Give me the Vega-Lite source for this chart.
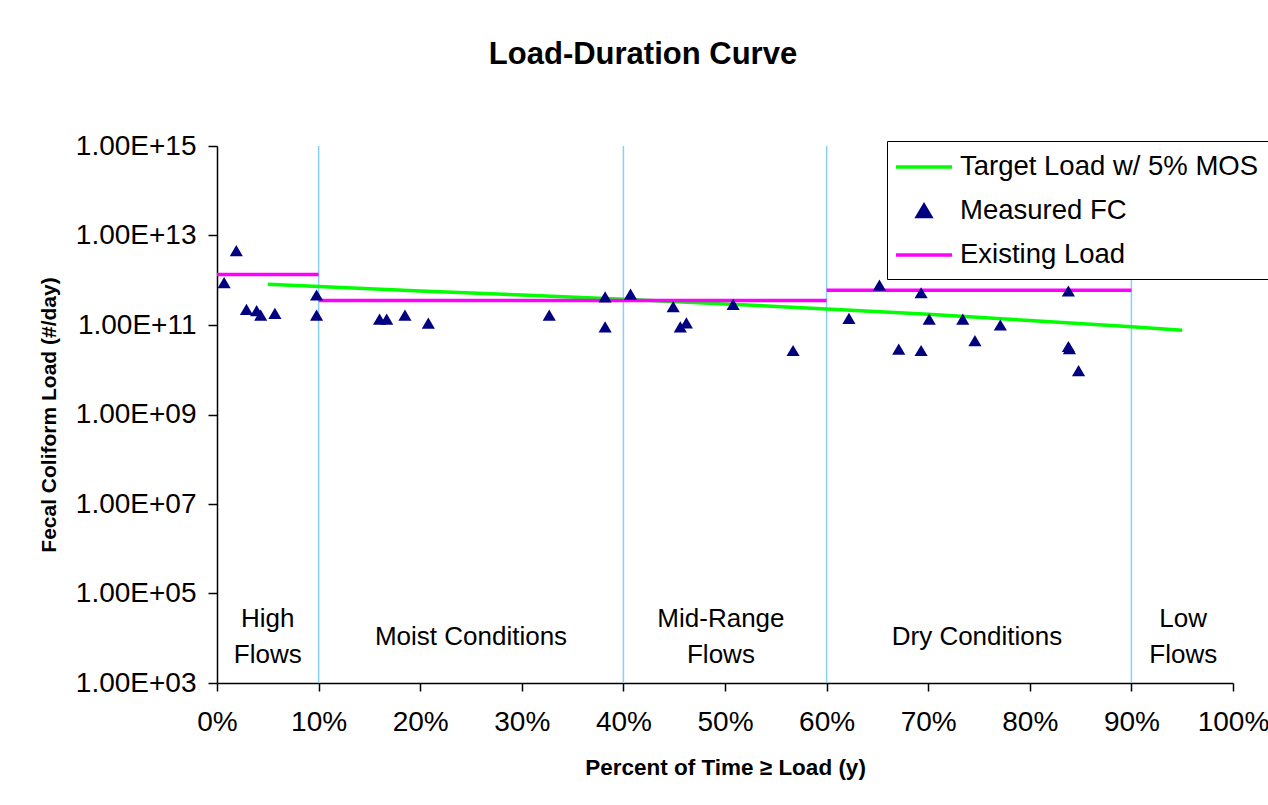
{
  "$schema": "https://vega.github.io/schema/vega-lite/v6.json",
  "autosize": {"type": "none"},
  "padding": {"left": 217, "top": 146, "right": 35, "bottom": 122},
  "width": 1016,
  "height": 537,
  "background": "white",
  "title": {"text": "Load-Duration Curve", "font": "Liberation Sans", "fontSize": 31, "fontWeight": "bold", "color": "black", "anchor": "middle", "frame": "group", "dx": -82, "offset": 37, "baseline": "alphabetic"},
  "config": {
    "view": {"stroke": null},
    "axis": {"labelFont": "Liberation Sans", "titleFont": "Liberation Sans", "labelColor": "black", "titleColor": "black", "domainColor": "black", "tickColor": "black", "domainWidth": 1.5, "tickWidth": 1.5, "grid": false},
    "legend": {"labelFont": "Liberation Sans", "labelFontSize": 27.5, "labelColor": "black", "labelLimit": 0, "padding": 10, "strokeColor": "black", "fillColor": "white", "symbolSize": 784, "symbolOffset": 11, "labelOffset": 20, "rowPadding": 14, "symbolStrokeWidth": 3.5}
  },
  "datasets": {
    "measured": [
      {"pct": 0.7, "load": 8.81e11, "series": "Measured FC"},
      {"pct": 1.9, "load": 4.57e12, "series": "Measured FC"},
      {"pct": 2.9, "load": 2.24e11, "series": "Measured FC"},
      {"pct": 3.9, "load": 2.09e11, "series": "Measured FC"},
      {"pct": 4.3, "load": 1.66e11, "series": "Measured FC"},
      {"pct": 5.7, "load": 1.82e11, "series": "Measured FC"},
      {"pct": 9.8, "load": 4.68e11, "series": "Measured FC"},
      {"pct": 9.8, "load": 1.66e11, "series": "Measured FC"},
      {"pct": 16.0, "load": 1.35e11, "series": "Measured FC"},
      {"pct": 16.7, "load": 1.35e11, "series": "Measured FC"},
      {"pct": 18.5, "load": 1.66e11, "series": "Measured FC"},
      {"pct": 20.8, "load": 1.10e11, "series": "Measured FC"},
      {"pct": 32.7, "load": 1.66e11, "series": "Measured FC"},
      {"pct": 38.2, "load": 4.27e11, "series": "Measured FC"},
      {"pct": 38.2, "load": 9.12e10, "series": "Measured FC"},
      {"pct": 40.7, "load": 4.90e11, "series": "Measured FC"},
      {"pct": 44.9, "load": 2.57e11, "series": "Measured FC"},
      {"pct": 45.6, "load": 9.12e10, "series": "Measured FC"},
      {"pct": 46.2, "load": 1.12e11, "series": "Measured FC"},
      {"pct": 50.8, "load": 2.88e11, "series": "Measured FC"},
      {"pct": 56.7, "load": 2.69e10, "series": "Measured FC"},
      {"pct": 62.2, "load": 1.41e11, "series": "Measured FC"},
      {"pct": 65.2, "load": 7.76e11, "series": "Measured FC"},
      {"pct": 69.3, "load": 5.25e11, "series": "Measured FC"},
      {"pct": 67.1, "load": 2.88e10, "series": "Measured FC"},
      {"pct": 69.3, "load": 2.69e10, "series": "Measured FC"},
      {"pct": 70.1, "load": 1.35e11, "series": "Measured FC"},
      {"pct": 73.4, "load": 1.35e11, "series": "Measured FC"},
      {"pct": 74.6, "load": 4.47e10, "series": "Measured FC"},
      {"pct": 77.1, "load": 1.00e11, "series": "Measured FC"},
      {"pct": 83.8, "load": 5.75e11, "series": "Measured FC"},
      {"pct": 83.8, "load": 3.31e10, "series": "Measured FC"},
      {"pct": 83.9, "load": 2.95e10, "series": "Measured FC"},
      {"pct": 84.8, "load": 9.55e9, "series": "Measured FC"}
    ],
    "target": [
      {"pct": 5, "load": 8.13e11, "series": "Target Load w/ 5% MOS"},
      {"pct": 10, "load": 7.24e11, "series": "Target Load w/ 5% MOS"},
      {"pct": 20, "load": 5.75e11, "series": "Target Load w/ 5% MOS"},
      {"pct": 30, "load": 4.68e11, "series": "Target Load w/ 5% MOS"},
      {"pct": 40, "load": 3.76e11, "series": "Target Load w/ 5% MOS"},
      {"pct": 50, "load": 2.95e11, "series": "Target Load w/ 5% MOS"},
      {"pct": 60, "load": 2.29e11, "series": "Target Load w/ 5% MOS"},
      {"pct": 70, "load": 1.74e11, "series": "Target Load w/ 5% MOS"},
      {"pct": 80, "load": 1.26e11, "series": "Target Load w/ 5% MOS"},
      {"pct": 90, "load": 9.12e10, "series": "Target Load w/ 5% MOS"},
      {"pct": 95, "load": 7.59e10, "series": "Target Load w/ 5% MOS"}
    ],
    "existing": [
      {"start": 0, "end": 10, "load": 1.35e12, "series": "Existing Load"},
      {"start": 10, "end": 60, "load": 3.55e11, "series": "Existing Load"},
      {"start": 60, "end": 90, "load": 5.96e11, "series": "Existing Load"}
    ],
    "bounds": [{"pct": 10}, {"pct": 40}, {"pct": 60}, {"pct": 90}],
    "regions": [
      {"pct": 5, "load": 2.69e4, "label": ["High", "Flows"]},
      {"pct": 25, "load": 1.07e4, "label": "Moist Conditions"},
      {"pct": 49.6, "load": 2.69e4, "label": ["Mid-Range", "Flows"]},
      {"pct": 74.8, "load": 1.07e4, "label": "Dry Conditions"},
      {"pct": 95.1, "load": 2.69e4, "label": ["Low", "Flows"]}
    ]
  },
  "layer": [
    {
      "data": {"name": "bounds"},
      "mark": {"type": "rule", "color": "#87cefa", "strokeWidth": 1.5},
      "encoding": {
        "x": {"field": "pct", "type": "quantitative", "scale": {"domain": [0, 100], "nice": false},
          "axis": {"values": [0, 10, 20, 30, 40, 50, 60, 70, 80, 90, 100], "labelExpr": "datum.value + '%'", "tickSize": 8, "labelPadding": 17, "labelFontSize": 28, "labelFlush": false, "labelOverlap": false,
            "title": "Percent of Time ≥ Load (y)", "titleFontSize": 22.5, "titleFontWeight": "bold", "titleY": 91, "titleBaseline": "alphabetic"}}
      }
    },
    {
      "data": {"name": "regions"},
      "mark": {"type": "text", "font": "Liberation Sans", "fontSize": 26, "lineHeight": 36, "align": "center", "baseline": "middle", "color": "black"},
      "encoding": {
        "x": {"field": "pct", "type": "quantitative"},
        "y": {"field": "load", "type": "quantitative"},
        "text": {"field": "label"}
      }
    },
    {
      "data": {"name": "target"},
      "mark": {"type": "line", "strokeWidth": 3.5},
      "encoding": {
        "x": {"field": "pct", "type": "quantitative"},
        "y": {"field": "load", "type": "quantitative", "scale": {"type": "log", "domain": [1e3, 1e15], "nice": false},
          "axis": {"values": [1e3, 1e5, 1e7, 1e9, 1e11, 1e13, 1e15], "labelExpr": "'1.00E+' + (round(log(datum.value)/LN10) < 10 ? '0' : '') + round(log(datum.value)/LN10)", "tickSize": 9, "labelPadding": 12, "labelFontSize": 28,
            "title": "Fecal Coliform Load (#/day)", "titleFontSize": 21, "titleFontWeight": "bold", "titleX": -168, "titleY": 268.5, "titleAngle": 270, "titleAlign": "center", "titleBaseline": "middle"}},
        "color": {"field": "series", "type": "nominal",
          "scale": {"domain": ["Target Load w/ 5% MOS", "Measured FC", "Existing Load"], "range": ["#00ff00", "#000080", "#ff00ff"]},
          "legend": {"title": null, "orient": "none", "legendX": 670, "legendY": -5,
            "encode": {"symbols": {"update": {
              "shape": [{"test": "datum.value === 'Measured FC'", "value": "M0,-0.4L0.47,0.4L-0.47,0.4Z"}, {"value": "M-2,0H2"}],
              "fill": [{"test": "datum.value === 'Measured FC'", "value": "#000080"}, {"value": "transparent"}],
              "stroke": [{"test": "datum.value === 'Existing Load'", "value": "#ff00ff"}, {"test": "datum.value === 'Measured FC'", "value": "transparent"}, {"value": "#00ff00"}],
              "strokeWidth": {"value": 3.5},
              "opacity": {"value": 1},
              "fillOpacity": {"value": 1},
              "strokeOpacity": {"value": 1}
            }}}}}
      }
    },
    {
      "data": {"name": "existing"},
      "mark": {"type": "rule", "strokeWidth": 3.5},
      "encoding": {
        "x": {"field": "start", "type": "quantitative"},
        "x2": {"field": "end"},
        "y": {"field": "load", "type": "quantitative"},
        "color": {"field": "series", "type": "nominal"}
      }
    },
    {
      "data": {"name": "measured"},
      "mark": {"type": "point", "filled": true, "opacity": 1, "shape": "M0,-0.4L0.47,0.4L-0.47,0.4Z", "size": 784},
      "encoding": {
        "x": {"field": "pct", "type": "quantitative"},
        "y": {"field": "load", "type": "quantitative"},
        "color": {"field": "series", "type": "nominal"}
      }
    }
  ]
}
